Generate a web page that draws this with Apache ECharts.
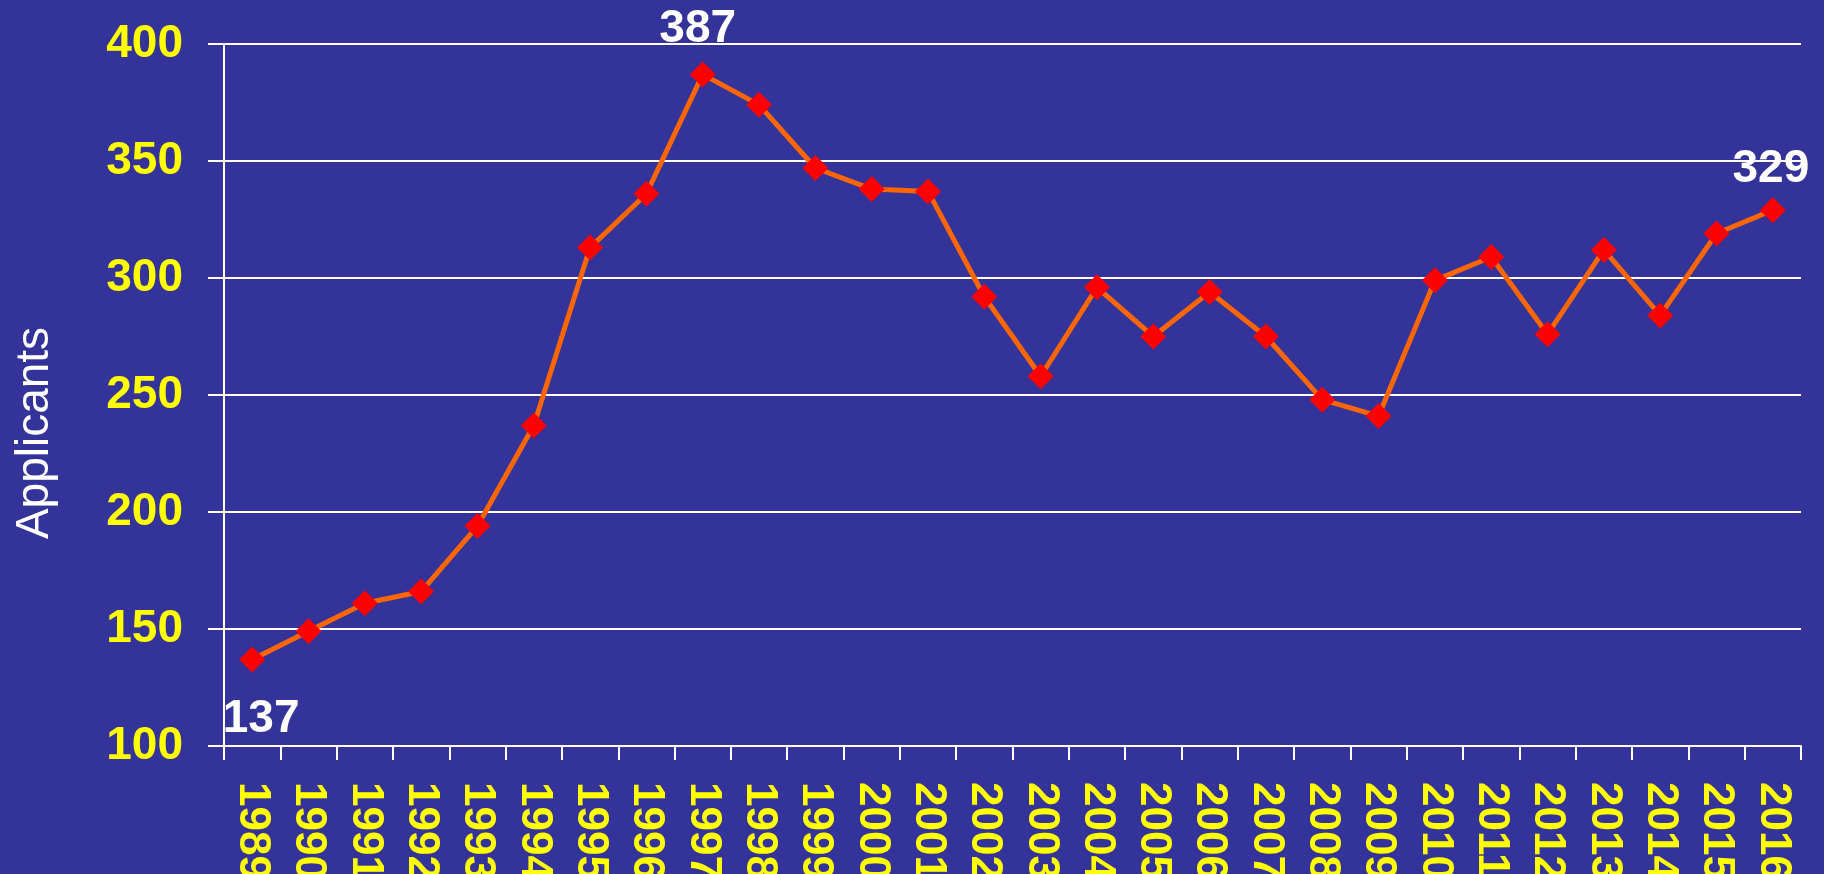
<!DOCTYPE html>
<html>
<head>
<meta charset="utf-8">
<style>
html, body { margin: 0; padding: 0; background: #333399; }
#main { width: 1824px; height: 874px; }
</style>
<script src="https://cdn.jsdelivr.net/npm/echarts@6/dist/echarts.min.js"></script>
</head>
<body>
<div id="main"></div>
<script>
var years = ['1989', '1990', '1991', '1992', '1993', '1994', '1995', '1996', '1997', '1998',
             '1999', '2000', '2001', '2002', '2003', '2004', '2005', '2006', '2007', '2008',
             '2009', '2010', '2011', '2012', '2013', '2014', '2015', '2016'];
var applicants = [137, 149, 161, 166, 194, 237, 313, 336, 387, 374,
                  347, 338, 337, 292, 258, 296, 275, 294, 275, 248,
                  241, 299, 309, 276, 312, 284, 319, 329];
var yMin = 100, yMax = 400, yStep = 50;

var font = '"Liberation Sans", Arial, sans-serif';

// value labels only on the first, highest and last points
var valueLabel = {
    show: true,
    color: '#ffffff',
    fontFamily: font,
    fontWeight: 'bold',
    fontSize: 46
};
var peak = applicants.indexOf(Math.max.apply(null, applicants));
var last = applicants.length - 1;
var seriesData = applicants.map(function (v, i) {
    var item = { value: v };
    if (i === 0) {
        item.label = Object.assign({}, valueLabel, { position: 'bottom', distance: 24, offset: [9, 0] });
    } else if (i === peak) {
        item.label = Object.assign({}, valueLabel, { position: 'top', distance: 9, offset: [-5, 0] });
    } else if (i === last) {
        item.label = Object.assign({}, valueLabel, { position: 'top', distance: 5, offset: [-2, 0] });
    }
    return item;
});

var myChart = echarts.init(document.getElementById('main'));
var option = {
    backgroundColor: '#333399',
    animation: false,
    grid: {
        left: 224,
        right: 23,
        top: 44,
        bottom: 128,
        outerBoundsMode: 'none',
        containLabel: false
    },
    graphic: [{
        type: 'text',
        x: 35,
        y: 433,
        rotation: Math.PI / 2,
        style: {
            text: 'Applicants',
            fill: '#ffffff',
            font: '46px ' + font,
            align: 'center',
            verticalAlign: 'middle'
        }
    }],
    xAxis: {
        type: 'category',
        data: years,
        boundaryGap: true,
        axisLine: { lineStyle: { color: '#ffffff', width: 2 } },
        axisTick: { show: true, length: 14, lineStyle: { color: '#ffffff', width: 2 } },
        axisLabel: {
            interval: 0,
            rotate: -90,
            margin: 36,
            color: '#ffff00',
            fontFamily: font,
            fontWeight: 'bold',
            fontSize: 44
        },
        splitLine: { show: false }
    },
    yAxis: {
        type: 'value',
        min: yMin,
        max: yMax,
        interval: yStep,
        axisLine: { show: true, lineStyle: { color: '#ffffff', width: 2 } },
        axisTick: { show: true, length: 16, lineStyle: { color: '#ffffff', width: 2 } },
        axisLabel: {
            margin: 41,
            padding: [7, 0, 0, 0],
            color: '#ffff00',
            fontFamily: font,
            fontWeight: 'bold',
            fontSize: 46
        },
        splitLine: { show: true, lineStyle: { color: '#ffffff', width: 2 } }
    },
    series: [{
        type: 'line',
        data: seriesData,
        symbol: 'diamond',
        symbolSize: 26,
        itemStyle: { color: '#ff0000' },
        lineStyle: { color: '#ff6600', width: 5 },
        label: { show: false }
    }]
};
myChart.setOption(option);
</script>
</body>
</html>
